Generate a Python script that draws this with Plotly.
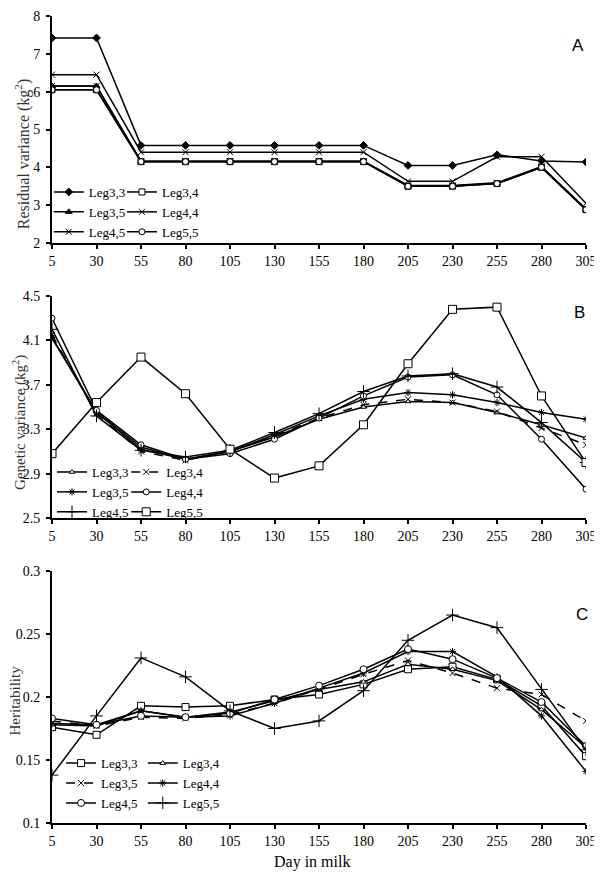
import plotly.graph_objects as go
from plotly.subplots import make_subplots

# x axis: day in milk
days = [5, 30, 55, 80, 105, 130, 155, 180, 205, 230, 255, 280, 305]
series_names = ["Leg3,3", "Leg3,4", "Leg3,5", "Leg4,4", "Leg4,5", "Leg5,5"]

# panel A - residual variance (kg^2)
res_leg33 = [7.42, 7.42, 4.58, 4.58, 4.58, 4.58, 4.58, 4.58, 4.05, 4.05, 4.33, 4.17, 4.14]
res_leg34 = [6.05, 6.05, 4.15, 4.15, 4.15, 4.15, 4.15, 4.15, 3.50, 3.50, 3.57, 4.00, 2.88]
res_leg35 = [6.15, 6.15, 4.16, 4.16, 4.16, 4.16, 4.16, 4.16, 3.51, 3.51, 3.58, 4.01, 2.89]
res_leg44 = [6.45, 6.45, 4.40, 4.40, 4.40, 4.40, 4.40, 4.40, 3.63, 3.63, 4.28, 4.28, 3.05]
res_leg45 = [6.15, 6.15, 4.16, 4.16, 4.16, 4.16, 4.16, 4.16, 3.52, 3.52, 3.59, 4.02, 2.90]
res_leg55 = [6.05, 6.05, 4.15, 4.15, 4.15, 4.15, 4.15, 4.15, 3.50, 3.50, 3.57, 4.00, 2.88]

# panel B - genetic variance (kg^2)
gen_leg33 = [4.12, 3.46, 3.14, 3.03, 3.10, 3.23, 3.39, 3.50, 3.55, 3.54, 3.45, 3.34, 3.22]
gen_leg34 = [4.15, 3.44, 3.10, 3.02, 3.10, 3.24, 3.40, 3.52, 3.57, 3.54, 3.46, 3.31, 3.16]
gen_leg35 = [4.13, 3.45, 3.12, 3.03, 3.10, 3.25, 3.42, 3.57, 3.63, 3.61, 3.54, 3.45, 3.39]
gen_leg44 = [4.30, 3.47, 3.16, 3.03, 3.08, 3.21, 3.40, 3.60, 3.77, 3.79, 3.61, 3.21, 2.76]
gen_leg45 = [4.20, 3.42, 3.11, 3.05, 3.11, 3.27, 3.44, 3.64, 3.78, 3.80, 3.68, 3.36, 3.00]
gen_leg55 = [3.08, 3.54, 3.95, 3.62, 3.12, 2.86, 2.97, 3.34, 3.89, 4.38, 4.40, 3.60, 3.00]

# panel C - heritability
her_leg33 = [0.176, 0.170, 0.193, 0.192, 0.193, 0.198, 0.202, 0.210, 0.222, 0.224, 0.214, 0.193, 0.153]
her_leg34 = [0.178, 0.177, 0.189, 0.184, 0.188, 0.197, 0.206, 0.212, 0.226, 0.222, 0.213, 0.190, 0.160]
her_leg35 = [0.181, 0.177, 0.184, 0.183, 0.186, 0.195, 0.206, 0.218, 0.229, 0.219, 0.207, 0.202, 0.181]
her_leg44 = [0.179, 0.178, 0.189, 0.184, 0.185, 0.195, 0.207, 0.219, 0.236, 0.236, 0.216, 0.185, 0.141]
her_leg45 = [0.183, 0.178, 0.185, 0.184, 0.187, 0.198, 0.209, 0.222, 0.238, 0.230, 0.215, 0.196, 0.161]
her_leg55 = [0.138, 0.185, 0.231, 0.216, 0.189, 0.175, 0.181, 0.205, 0.245, 0.265, 0.255, 0.206, 0.158]

her_ticks = [0.1, 0.15, 0.2, 0.25, 0.3]
her_ticktext = ["0.1", "0.15", "0.2", "0.25", "0.3"]

SERIF = "Liberation Serif, Times New Roman, serif"
SANS = "Liberation Sans, Arial, sans-serif"

# marker style per panel: (symbol, size, fill, dash)
styles_a = [("diamond", 6, "black", "solid"), ("square", 6, "white", "solid"),
            ("triangle-up", 6, "black", "solid"), ("x-thin-open", 6, "black", "solid"),
            ("x-thin-open", 6, "black", "solid"), ("circle", 6, "white", "solid")]
styles_b = [("triangle-up", 5, "white", "solid"), ("x-thin-open", 6, "black", "dash"),
            ("asterisk-open", 6, "black", "solid"), ("circle", 6, "white", "solid"),
            ("cross-thin-open", 9, "black", "solid"), ("square", 8, "white", "solid")]
styles_c = [("square", 7, "white", "solid"), ("triangle-up", 5, "white", "solid"),
            ("x-thin-open", 6, "black", "dash"), ("asterisk-open", 6, "black", "solid"),
            ("circle", 7, "white", "solid"), ("cross-thin-open", 9, "black", "solid")]

panels = [
    ([res_leg33, res_leg34, res_leg35, res_leg44, res_leg45, res_leg55], styles_a, ("legend", "legend2")),
    ([gen_leg33, gen_leg34, gen_leg35, gen_leg44, gen_leg45, gen_leg55], styles_b, ("legend3", "legend4")),
    ([her_leg33, her_leg34, her_leg35, her_leg44, her_leg45, her_leg55], styles_c, ("legend5", "legend6")),
]

fig = make_subplots(rows=3, cols=1)

for row, (values, styles, legends) in enumerate(panels, start=1):
    for i, (name, y, st) in enumerate(zip(series_names, values, styles)):
        symbol, size, fill, dash = st
        fig.add_trace(go.Scatter(
            x=days, y=y, name=name, mode="lines+markers",
            line=dict(color="black", width=1.5, dash=dash),
            marker=dict(symbol=symbol, size=size, color=fill,
                        line=dict(color="black", width=1)),
            legend=legends[i % 2],
        ), row=row, col=1)

# domains (paper fraction, measured off the page)
doms = [[0.7187, 1.0], [0.3779, 0.6530], [0.0, 0.3123]]
axis_common = dict(showline=True, linecolor="black", linewidth=2, ticks="outside",
                   ticklen=4, tickwidth=1.5, tickcolor="black", showgrid=False,
                   zeroline=False, automargin=False,
                   tickfont=dict(family=SERIF, size=14, color="black"))
for r in range(3):
    fig.update_xaxes(range=[5, 305], tickvals=days, domain=[0, 1], **axis_common, row=r + 1, col=1)
    fig.update_yaxes(domain=doms[r], ticklabelstandoff=3, **axis_common, row=r + 1, col=1)

fig.update_yaxes(range=[2, 8], dtick=1, row=1, col=1)
fig.update_yaxes(range=[2.5, 4.5], tick0=2.5, dtick=0.4, row=2, col=1)
fig.update_yaxes(range=[0.1, 0.3], tickvals=her_ticks, ticktext=her_ticktext, row=3, col=1)

leg_common = dict(bgcolor="rgba(0,0,0,0)", borderwidth=0, xanchor="left",
                  font=dict(family=SERIF, size=13, color="black"), tracegroupgap=0)
# legend positions: (x, y, yanchor) in paper
leg_pos = {"legend": (-0.006, 0.8005, "top"), "legend2": (0.131, 0.8005, "top"),
           "legend3": (0.0, 0.4535, "top"), "legend4": (0.139, 0.4535, "top"),
           "legend5": (0.017, 0.006, "bottom"), "legend6": (0.170, 0.006, "bottom")}
layout_legends = {k: dict(x=v[0], y=v[1], yanchor=v[2], **leg_common) for k, v in leg_pos.items()}

title_font = dict(family=SERIF, size=16, color="#333")
annotations = [
    dict(text="Residual variance (kg<sup>2</sup>)", x=-0.054, y=0.829, textangle=-90),
    dict(text="Genetic variance (kg<sup>2</sup>)", x=-0.060, y=0.497, textangle=-90,
         font=dict(family=SERIF, size=15, color="#333")),
    dict(text="Heritability", x=-0.069, y=0.152, textangle=-90,
         font=dict(family=SERIF, size=15, color="#333")),
    dict(text="Day in milk", x=0.487, y=-0.048, font=dict(family=SERIF, size=16, color="black")),
    dict(text="A", x=0.985, y=0.964, font=dict(family=SANS, size=17, color="black")),
    dict(text="B", x=0.987, y=0.632, font=dict(family=SANS, size=17, color="black")),
    dict(text="C", x=0.993, y=0.258, font=dict(family=SANS, size=17, color="black")),
]
for a in annotations:
    a.update(xref="paper", yref="paper", showarrow=False, xanchor="center", yanchor="middle")
    a.setdefault("font", title_font)

fig.update_layout(
    width=594, height=870,
    margin=dict(l=44, r=16, t=8, b=55),
    paper_bgcolor="white", plot_bgcolor="white",
    showlegend=True,
    annotations=annotations,
    **layout_legends,
)

fig.write_html("out.html")
